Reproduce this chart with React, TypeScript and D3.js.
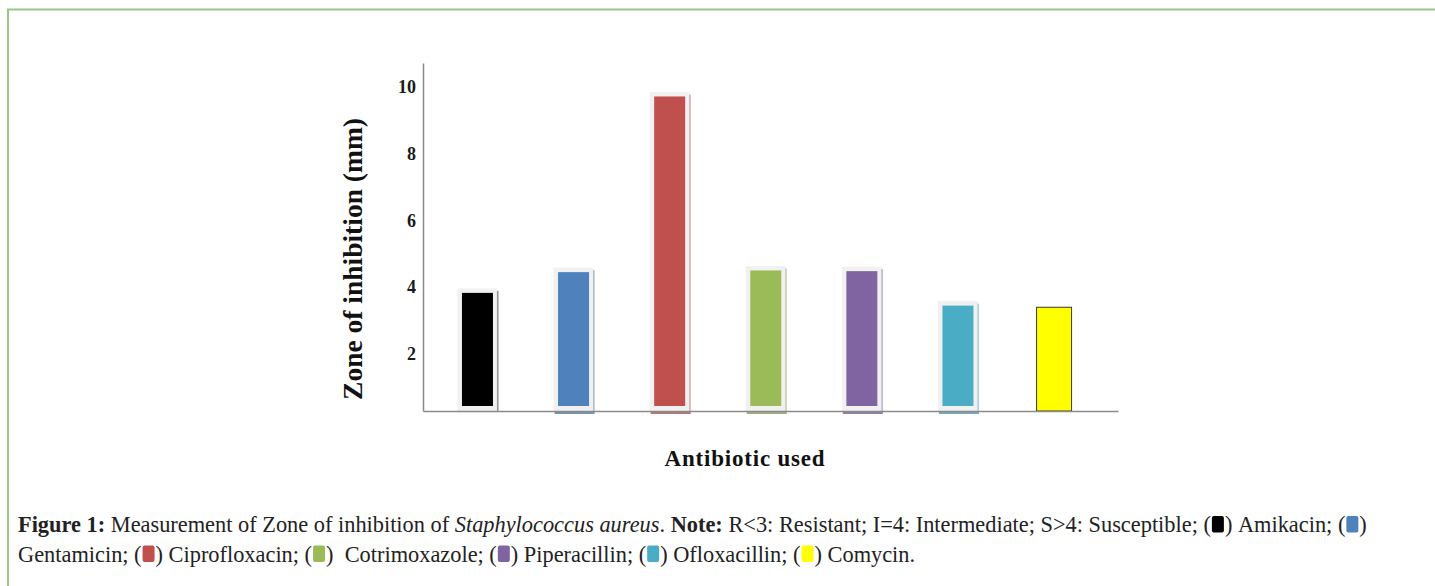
import React, { useEffect, useRef } from "react";
import * as d3 from "d3";

// Zone of inhibition (mm) per antibiotic, Staphylococcus aureus
const antibiotics = [
  "Amikacin",
  "Gentamicin",
  "Ciprofloxacin",
  "Cotrimoxazole",
  "Piperacillin",
  "Ofloxacillin",
  "Comycin",
];
const zoneMm = [3.83, 4.45, 9.7, 4.5, 4.48, 3.45, 3.4];
const barColors = ["#000000", "#4f81bd", "#c0504d", "#9bbb59", "#8064a2", "#4bacc6", "#ffff00"];
const yTicks = [2, 4, 6, 8, 10];
const yDomain = [0.3, 10.7];

// Bar rendering style: framed (glow + shadow) or plain outlined
const barFramed = [true, true, true, true, true, true, false];
const barBaseShadow = [false, true, true, true, true, true, false];

type Seg = { t?: string; b?: boolean; i?: boolean; sw?: number };

const captionLine1: Seg[] = [
  { t: "Figure 1:", b: true },
  { t: " Measurement of Zone of inhibition of " },
  { t: "Staphylococcus aureus", i: true },
  { t: ". " },
  { t: "Note:", b: true },
  { t: " R<3: Resistant; I=4: Intermediate; S>4: Susceptible; (" },
  { sw: 0 },
  { t: ") Amikacin; (" },
  { sw: 1 },
  { t: ")" },
];
const captionLine2: Seg[] = [
  { t: "Gentamicin; (" },
  { sw: 2 },
  { t: ") Ciprofloxacin; (" },
  { sw: 3 },
  { t: ")  Cotrimoxazole; (" },
  { sw: 4 },
  { t: ") Piperacillin; (" },
  { sw: 5 },
  { t: ") Ofloxacillin; (" },
  { sw: 6 },
  { t: ") Comycin." },
];

const SERIF = "'Liberation Serif', 'Times New Roman', serif";

export default function App() {
  const ref = useRef<SVGSVGElement | null>(null);

  useEffect(() => {
    const svg = d3.select(ref.current);
    svg.selectAll("*").remove();

    const W = 1435;
    const H = 586;

    // page frame (top and left rules)
    svg
      .append("path")
      .attr("d", `M8,${H} V9.5 H${W}`)
      .attr("fill", "none")
      .attr("stroke", "#9cc587")
      .attr("stroke-width", 2);

    const plot = { left: 423, right: 1118, top: 63, bottom: 411 };

    const x = d3
      .scalePoint<string>()
      .domain(antibiotics)
      .range([plot.left, plot.right])
      .padding(0.616)
      .align(0.46);
    const y = d3.scaleLinear().domain(yDomain).range([plot.bottom, plot.top]);

    const chart = svg.append("g");

    // bars
    const frameW = 40;
    const innerW = 31;
    const pad = 4.5;
    antibiotics.forEach((name, i) => {
      const cx = x(name)!;
      const v = zoneMm[i];
      const top = y(v);
      const col = barColors[i];
      if (barFramed[i]) {
        const dark = d3.color(col)!.darker(0.7).formatHex();
        // outer glow frame
        chart
          .append("rect")
          .attr("x", cx - frameW / 2)
          .attr("y", top - pad)
          .attr("width", frameW)
          .attr("height", plot.bottom + 1.5 - (top - pad))
          .attr("fill", "#f1f1f1");
        // right-hand shadow
        chart
          .append("rect")
          .attr("x", cx + frameW / 2 - 0.5)
          .attr("y", top - 2)
          .attr("width", 1.6)
          .attr("height", plot.bottom - (top - 2))
          .attr("fill", dark)
          .attr("opacity", 0.4);
        if (barBaseShadow[i]) {
          chart
            .append("rect")
            .attr("x", cx - frameW / 2 + 1)
            .attr("y", plot.bottom)
            .attr("width", frameW)
            .attr("height", 3)
            .attr("fill", dark)
            .attr("opacity", 0.7);
        }
        chart
          .append("rect")
          .attr("x", cx - innerW / 2)
          .attr("y", top)
          .attr("width", innerW)
          .attr("height", plot.bottom - 5 - top)
          .attr("fill", col);
      } else {
        chart
          .append("rect")
          .attr("x", cx - 17.5)
          .attr("y", top)
          .attr("width", 35)
          .attr("height", plot.bottom - top)
          .attr("fill", col)
          .attr("stroke", "#3b3b24")
          .attr("stroke-width", 1);
      }
    });

    // axes
    const yAxis = chart
      .append("g")
      .attr("transform", `translate(${plot.left},0)`)
      .call(d3.axisLeft(y).tickValues(yTicks).tickSize(0).tickSizeOuter(0).tickPadding(7).tickFormat(d3.format("d")));
    yAxis.select(".domain").attr("stroke", "#8a8a8a").attr("stroke-width", 1.5);
    yAxis
      .selectAll("text")
      .attr("font-family", SERIF)
      .attr("font-size", 18)
      .attr("font-weight", "bold")
      .attr("fill", "#1a1a1a");

    const xAxis = chart
      .append("g")
      .attr("transform", `translate(0,${plot.bottom})`)
      .call(d3.axisBottom(x).tickValues([]).tickSizeOuter(0));
    xAxis.select(".domain").attr("stroke", "#8a8a8a").attr("stroke-width", 1.5);

    // axis titles
    chart
      .append("text")
      .attr("transform", `translate(362,259) rotate(-90)`)
      .attr("text-anchor", "middle")
      .attr("font-family", SERIF)
      .attr("font-size", 27.5)
      .attr("font-weight", "bold")
      .attr("fill", "#111")
      .text("Zone of inhibition (mm)");
    chart
      .append("text")
      .attr("x", 745)
      .attr("y", 466)
      .attr("text-anchor", "middle")
      .attr("font-family", SERIF)
      .attr("font-size", 23)
      .attr("font-weight", "bold")
      .attr("letter-spacing", 0.8)
      .attr("fill", "#111")
      .text("Antibiotic used");

    // caption with inline colour keys
    const cap = svg.append("g").attr("font-family", SERIF).attr("fill", "#222");
    const swW = 12;
    const drawLine = (
      g: d3.Selection<SVGGElement, unknown, null, undefined>,
      segs: Seg[],
      x0: number,
      baseline: number,
      fs: number
    ) => {
      let xp = x0;
      segs.forEach((s) => {
        if (s.sw !== undefined) {
          g.append("rect")
            .attr("x", xp + 1)
            .attr("y", baseline - fs * 0.72)
            .attr("width", swW)
            .attr("height", fs * 0.74)
            .attr("rx", 2)
            .attr("fill", barColors[s.sw]);
          xp += swW + 2;
        } else {
          const t = g
            .append("text")
            .attr("x", xp)
            .attr("y", baseline)
            .attr("font-size", fs)
            .attr("font-weight", s.b ? "bold" : null)
            .attr("font-style", s.i ? "italic" : null)
            .text(s.t!.replace(/ /g, "\u00a0"));
          xp += (t.node() as SVGTextElement).getComputedTextLength();
        }
      });
      return xp - x0;
    };
    const probe = cap.append("g");
    const w0 = drawLine(probe, captionLine1, 0, 0, 19);
    probe.remove();
    const fs = (19 * 1354) / w0;
    drawLine(cap, captionLine1, 18, 532, fs);
    drawLine(cap, captionLine2, 18, 561.5, fs);
  }, []);

  return (
    <svg
      ref={ref}
      width={1435}
      height={586}
      style={{ position: "absolute", left: 0, top: 0, background: "#fff" }}
    />
  );
}
